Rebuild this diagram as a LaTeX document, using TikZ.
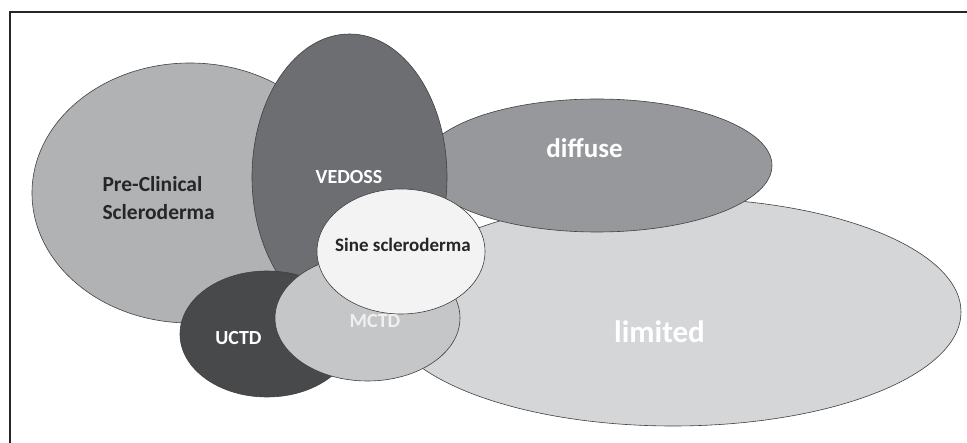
\documentclass[tikz,border=0pt]{standalone}
\usepackage{fontspec}
\setmainfont{Carlito}
\usepackage{tikz}
\usetikzlibrary{shapes.geometric}

\definecolor{preGray}{HTML}{B1B2B4}
\definecolor{vedossGray}{HTML}{6D6E71}
\definecolor{diffuseGray}{HTML}{97989B}
\definecolor{limitedGray}{HTML}{D5D6D8}
\definecolor{sineGray}{HTML}{F2F3F2}
\definecolor{mctdGray}{HTML}{C5C6C8}
\definecolor{uctdGray}{HTML}{48494B}

\tikzset{
  blob/.style={ellipse, draw=black!75, line width=0.6pt, inner sep=0pt},
  lbl/.style={font=\bfseries\fontsize{20}{28}\selectfont, anchor=base},
}

\begin{document}
\begin{tikzpicture}[x=1pt,y=-1pt]
\useasboundingbox (0,0) rectangle (967,443);

% A. Open frame, only top and left side
\draw[line width=2pt, black!85] (10,443) -- (10,12) -- (967,12);

% B. Ellipses, back to front
\node[blob, fill=preGray, minimum width=316pt, minimum height=260pt] (pre) at (190,193) {};
\node[blob, fill=limitedGray, minimum width=576pt, minimum height=228pt] (limited) at (673,312) {};
\node[blob, fill=diffuseGray, minimum width=350pt, minimum height=133pt] (diffuse) at (597,165.5) {};
\node[blob, fill=vedossGray, minimum width=195pt, minimum height=286pt] (vedoss) at (349.5,177) {};
\node[blob, fill=uctdGray, minimum width=174pt, minimum height=126pt] (uctd) at (267,334) {};
\node[blob, fill=mctdGray, minimum width=185pt, minimum height=126pt] (mctd) at (367.5,318) {};
\node[blob, fill=sineGray, minimum width=168pt, minimum height=125pt] (sine) at (401,251.5) {};

% C. Labels
\node[lbl, anchor=west, align=left, text=black!85, font=\bfseries\fontsize{21.5}{28}\selectfont] (preText) at (99,198) {Pre-Clinical\\Scleroderma};
\node[lbl, text=white] (vedossText) at (349,184) {VEDOSS};
\node[lbl, text=white, font=\bfseries\fontsize{27}{30}\selectfont] (diffuseText) at (584.5,158) {diffuse};
\node[lbl, text=white, font=\bfseries\fontsize{31}{34}\selectfont] (limitedText) at (659.5,343) {limited};
\node[lbl, text=black!85, font=\bfseries\fontsize{19}{24}\selectfont] (sineText) at (403,252) {Sine scleroderma};
\node[lbl, text=white] (uctdText) at (238.5,345) {UCTD};
\node[lbl, text=white!94!black] (mctdText) at (375,328) {MCTD};

\end{tikzpicture}
\end{document}
